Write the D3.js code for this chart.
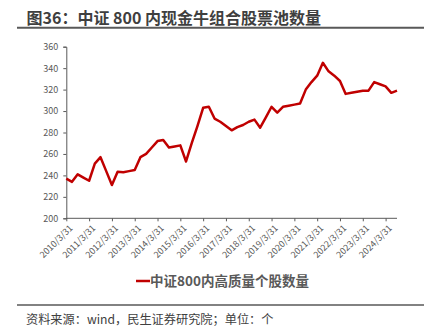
<!DOCTYPE html>
<html><head><meta charset="utf-8">
<script src="https://cdn.jsdelivr.net/npm/d3@7"></script>
<style>
html,body{margin:0;padding:0;background:#fff;}
text{font-family:"Noto Sans CJK SC","Noto Sans",sans-serif;}
</style></head>
<body><svg id="c" width="441" height="336"></svg>
<script>
const title = "图36：中证 800 内现金牛组合股票池数量";
const seriesName = "中证800内高质量个股数量";
const source = "资料来源：wind，民生证券研究院；单位：个";
const years = [2010,2011,2012,2013,2014,2015,2016,2017,2018,2019,2020,2021,2022,2023,2024];
const quarterEnds = ["3/31","6/30","9/30","12/31"];
const values = [
  237, 234, 241, 238,
  235, 251, 257, 244,
  231, 243.5, 243, 244,
  245, 257, 260, 266,
  272, 273, 266, 267,
  268, 253, 270, 286,
  303, 304, 293, 290,
  286, 282, 285, 287,
  290, 292, 284.5, 294,
  304, 298.5, 304, 305,
  306, 307, 320, 327,
  333, 345, 337, 333,
  328, 316, 317, 318,
  319, 319, 327, 325,
  323, 317, 319
];
const yTicks = [200,220,240,260,280,300,320,340,360];

const categories = values.map((v,i)=> years[Math.floor(i/4)] + "/" + quarterEnds[i%4]);
const data = values.map((v,i)=>({cat:categories[i], v}));
const tickCats = years.map(yr=> yr + "/3/31");

const svg = d3.select("#c");
const mLeft = 66.3, mRight = 397, mTop = 46.7, mBottom = 218.3;

const x = d3.scalePoint().domain(categories).range([mLeft, mRight]);
const y = d3.scaleLinear().domain([200,360]).range([mBottom, mTop]);

// title
svg.append("text").attr("x", 26.5).attr("y", 23.5)
  .attr("font-size", 16).attr("font-weight", "bold").attr("fill", "#3f3f3f")
  .text(title);
svg.append("line").attr("x1", 17).attr("x2", 424).attr("y1", 27.8).attr("y2", 27.8)
  .attr("stroke", "#595959").attr("stroke-width", 2);

// y axis
const ya = svg.append("g").attr("transform", `translate(${mLeft},0)`)
  .call(d3.axisLeft(y).tickValues(yTicks).tickSize(3).tickPadding(5).tickFormat(d3.format("d")));
ya.select(".domain").attr("stroke", "#595959").attr("stroke-width", 1);
ya.selectAll(".tick line").attr("stroke", "#595959");
ya.selectAll("text").attr("font-size", 9).attr("fill", "#595959")
  .style("font-family", "'Noto Sans CJK SC', sans-serif");

// x axis
const xa = svg.append("g").attr("transform", `translate(0,${mBottom})`)
  .call(d3.axisBottom(x).tickValues(tickCats).tickSize(3).tickSizeOuter(0));
xa.select(".domain").attr("stroke", "#595959").attr("d", `M${mLeft},0H${mRight}`);
xa.selectAll(".tick line").attr("stroke", "#595959");
xa.selectAll(".tick text")
  .attr("font-size", 9).attr("fill", "#595959")
  .attr("text-anchor", "end")
  .attr("transform", "translate(2,6) rotate(-45)")
  .attr("x", 0).attr("y", 0).attr("dy", "0.7em");

// line
svg.append("path").datum(data)
  .attr("fill", "none").attr("stroke", "#C00000").attr("stroke-width", 2.5)
  .attr("stroke-linejoin", "round")
  .attr("d", d3.line().x(d=>x(d.cat)).y(d=>y(d.v)));

// legend
svg.append("line").attr("x1", 136).attr("x2", 150).attr("y1", 281).attr("y2", 281)
  .attr("stroke", "#C00000").attr("stroke-width", 2.5);
svg.append("text").attr("x", 150).attr("y", 285.5)
  .attr("font-size", 13.5).attr("font-weight", "bold").attr("fill", "#595959")
  .text(seriesName);

// footer
svg.append("line").attr("x1", 17).attr("x2", 424).attr("y1", 305).attr("y2", 305)
  .attr("stroke", "#595959").attr("stroke-width", 1.5);
svg.append("text").attr("x", 26).attr("y", 324)
  .attr("font-size", 12.2).attr("fill", "#404040")
  .text(source);
</script>
</body></html>
